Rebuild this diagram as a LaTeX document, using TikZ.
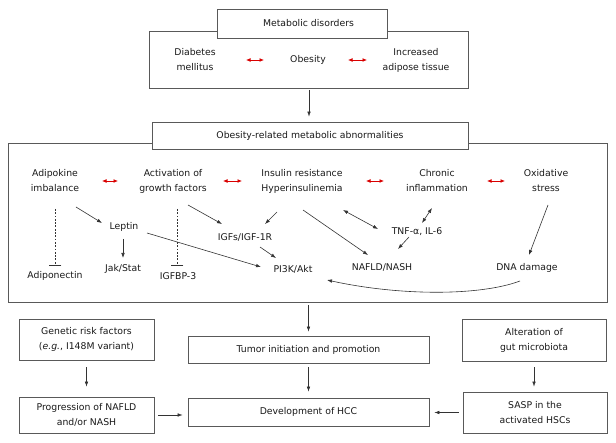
\documentclass[tikz,border=0pt]{standalone}
\usepackage{fontspec}
\setmainfont{DejaVu Sans}
\usetikzlibrary{arrows.meta}
\begin{document}
\begin{tikzpicture}[x=1pt,y=-1pt,
  every node/.style={font=\fontsize{9.3}{15}\selectfont, text=black!90, inner sep=1pt, align=center},
  box/.style={draw=black!65, line width=0.8pt, fill=white, inner sep=0pt},
  frame/.style={draw=black!65, line width=0.8pt, inner sep=0pt},
  arr/.style={draw=black!80, line width=0.6pt, -{Latex[length=5pt,width=3.6pt]}},
  darr/.style={draw=black!80, line width=0.6pt, {Latex[length=5pt,width=3.6pt]}-{Latex[length=5pt,width=3.6pt]}},
  redarr/.style={draw=red!85!black, line width=0.7pt, {Latex[length=4.5pt,width=3.8pt]}-{Latex[length=4.5pt,width=3.8pt]}},
  inhib/.style={draw=black!80, line width=0.6pt, dash pattern=on 1.8pt off 1.5pt, -{Bar[width=12.5pt]}}
]
\useasboundingbox (0,0) rectangle (616,443);

% top group
\node[frame, minimum width=319pt, minimum height=57pt] (outer) at (308.5,59.5) {};
\node[box, minimum width=170pt, minimum height=29pt] (md) at (302,23.5) {\hspace*{13pt}Metabolic disorders};
\node (diab) at (195,60) {Diabetes\\mellitus};
\node (obes) at (308,60) {Obesity};
\node (incr) at (416,60) {Increased\\adipose tissue};
\draw[redarr] ([shift={(51,0)}]diab.center) -- ([shift={(-44,0)}]obes.center);
\draw[redarr] ([shift={(40,0)}]obes.center) -- ([shift={(-49,0)}]incr.center);

% big frame
\node[frame, minimum width=599pt, minimum height=159pt] (big) at (307.5,222.5) {};
\node[box, minimum width=316pt, minimum height=27pt] (obr) at (310,135.5) {Obesity-related metabolic abnormalities};
\draw[arr, shorten <=2pt, shorten >=5pt] (outer.south -| 309,0) -- (obr.north -| 309,0);

% middle nodes
\node (adipo) at (55,181) {Adipokine\\imbalance};
\node (activ) at (173,181) {Activation of\\growth factors};
\node (insul) at (302,181) {Insulin resistance\\Hyperinsulinemia};
\node (chron) at (437,181) {Chronic\\inflammation};
\node (oxid) at (546,181) {Oxidative\\stress};
\node (leptin) at (124,227) {Leptin};
\node (adipon) at (55,276) {Adiponectin};
\node (jak) at (123,269) {Jak/Stat};
\node (igfbp) at (178,276) {IGFBP-3};
\node (igfs) at (245,237) {IGFs/IGF-1R};
\node (pi3k) at (293,269) {PI3K/Akt};
\node (tnf) at (417,232) {TNF-α, IL-6};
\node (nafld) at (382,267) {NAFLD/NASH};
\node (dna) at (527,268) {DNA damage};

\draw[redarr] ([shift={(47,0)}]adipo.center) -- ([shift={(-55,0)}]activ.center);
\draw[redarr] ([shift={(50,0)}]activ.center) -- ([shift={(-60,0)}]insul.center);
\draw[redarr] ([shift={(64,0)}]insul.center) -- ([shift={(-53,0)}]chron.center);
\draw[redarr] ([shift={(50,0)}]chron.center) -- ([shift={(-41,0)}]oxid.center);

\draw[arr] ([shift={(21,26)}]adipo.center) -- ([shift={(-22,-4)}]leptin.center);
\draw[inhib] ([shift={(0,28)}]adipo.center) -- ([shift={(0,-10)}]adipon.center);
\draw[arr] ([shift={(-1,12)}]leptin.center) -- ([shift={(0,-11)}]jak.center);
\draw[arr] ([shift={(23,6)}]leptin.center) -- ([shift={(-32,-2)}]pi3k.center);
\draw[inhib] ([shift={(4,28)}]activ.center) -- ([shift={(-1,-10)}]igfbp.center);
\draw[arr] ([shift={(15,24)}]activ.center) -- ([shift={(-23,-13)}]igfs.center);
\draw[arr] ([shift={(-25,31)}]insul.center) -- ([shift={(20,-13)}]igfs.center);
\draw[arr] ([shift={(15,10)}]igfs.center) -- ([shift={(-17,-11)}]pi3k.center);
\draw[arr] ([shift={(1,29)}]insul.center) -- ([shift={(-14,-12)}]nafld.center);
\draw[darr] ([shift={(41,29)}]insul.center) -- ([shift={(-39,-3)}]tnf.center);
\draw[darr] ([shift={(-5,27)}]chron.center) -- ([shift={(5,-9)}]tnf.center);
\draw[arr] ([shift={(-8,5)}]tnf.center) -- ([shift={(16,-18)}]nafld.center);
\draw[arr] ([shift={(2,24)}]oxid.center) -- ([shift={(2,-13)}]dna.center);
\draw[arr] ([shift={(-7,13)}]dna.center) .. controls (480,296) and (400,296) .. ([shift={(34,11)}]pi3k.center);

% bottom
\node[box, minimum width=135pt, minimum height=41pt] (gen) at (86.5,339.5) {Genetic risk factors\\(\textit{e.g.}, I148M variant)};
\node[box, minimum width=241pt, minimum height=27pt] (tum) at (308.5,349.5) {Tumor initiation and promotion};
\node[box, minimum width=144pt, minimum height=42pt] (alt) at (534,340) {Alteration of\\gut microbiota};
\node[box, minimum width=135pt, minimum height=36pt] (prog) at (86.5,415) {Progression of NAFLD\\and/or NASH};
\node[box, minimum width=241pt, minimum height=28pt] (hcc) at (308.5,412) {Development of HCC};
\node[box, minimum width=144pt, minimum height=41pt] (sasp) at (535,412.5) {SASP in the\\activated HSCs};

\draw[arr, shorten <=3pt, shorten >=4pt] (big.south -| tum.north) -- (tum.north);
\draw[arr, shorten <=4pt, shorten >=6pt] (tum.south) -- (hcc.north);
\draw[arr, shorten <=7pt, shorten >=10pt] (gen.south) -- (prog.north);
\draw[arr, shorten <=6pt, shorten >=5pt] (alt.south) -- (alt.south |- sasp.north);
\draw[arr, shorten <=4pt, shorten >=5pt] (prog.east) -- (prog.east -| hcc.west);
\draw[arr, shorten <=4pt, shorten >=5pt] (sasp.west) -- (sasp.west -| hcc.east);
\end{tikzpicture}
\end{document}
